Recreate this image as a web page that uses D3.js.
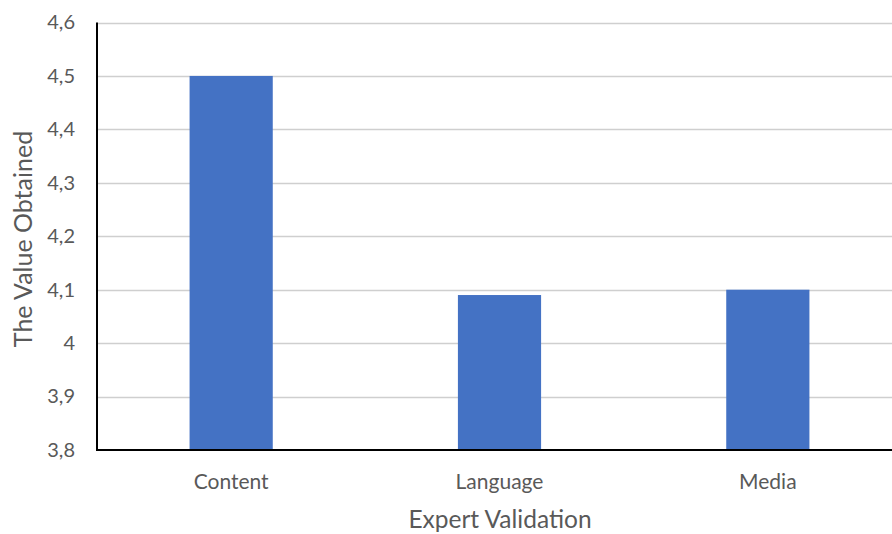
<!DOCTYPE html>
<html>
<head>
<meta charset="utf-8">
<script src="https://cdn.jsdelivr.net/npm/d3@7"></script>
<style>
  html, body { margin: 0; padding: 0; background: #ffffff; }
  svg { display: block; font-family: Lato, "Open Sans", sans-serif; }
</style>
</head>
<body>
<svg id="chart" width="892" height="534"></svg>
<script>
// Expert validation scores per aspect
const categories = ["Content", "Language", "Media"];
const values = [4.5, 4.09, 4.1];
const yTicks = [3.8, 3.9, 4.0, 4.1, 4.2, 4.3, 4.4, 4.5, 4.6];
const xTitle = "Expert Validation";
const yTitle = "The Value Obtained";

const svg = d3.select("#chart");
const plot = { left: 97, right: 902, top: 22.5, bottom: 450 };
const textColor = "#595959";

const x = d3.scaleBand()
  .domain(categories)
  .range([plot.left, plot.right])
  .paddingInner(0.69)
  .paddingOuter(0.345);

const y = d3.scaleLinear()
  .domain([3.8, 4.6])
  .range([plot.bottom, plot.top]);

const fmt = v => (v === 4 ? "4" : d3.format(".1f")(v).replace(".", ","));

// horizontal gridlines
svg.append("g")
  .selectAll("line")
  .data(yTicks.filter(t => t > 3.8))
  .join("line")
  .attr("x1", plot.left)
  .attr("x2", 892)
  .attr("y1", d => Math.round(y(d)) + 0.5)
  .attr("y2", d => Math.round(y(d)) + 0.5)
  .attr("stroke", "#cfcfcf")
  .attr("stroke-width", 1.3);

// bars
svg.append("g")
  .selectAll("rect")
  .data(categories.map((c, i) => ({ c, v: values[i] })))
  .join("rect")
  .attr("x", d => x(d.c))
  .attr("width", x.bandwidth())
  .attr("y", d => y(d.v))
  .attr("height", d => y(3.8) - y(d.v))
  .attr("fill", "#4472c4");

// y axis
const yAxis = svg.append("g")
  .attr("transform", `translate(${plot.left},0)`)
  .call(d3.axisLeft(y).tickValues(yTicks).tickFormat(fmt).tickSize(0).tickPadding(22));
yAxis.select(".domain").attr("stroke", "#000").attr("stroke-width", 2).attr("d", `M0,${plot.top}V${plot.bottom + 1}`);
yAxis.selectAll("text")
  .attr("fill", textColor)
  .style("font-size", "20px")
  .style("font-family", "Lato, sans-serif");

// x axis
const xAxis = svg.append("g")
  .attr("transform", `translate(0,${plot.bottom})`)
  .call(d3.axisBottom(x).tickSize(0).tickPadding(24));
xAxis.select(".domain").attr("stroke", "#000").attr("stroke-width", 2).attr("d", `M${plot.left - 1},0H892`);
xAxis.selectAll("text")
  .attr("fill", textColor)
  .style("font-size", "21px")
  .style("font-family", "Lato, sans-serif");

// axis titles
svg.append("text")
  .attr("x", 500)
  .attr("y", 528)
  .attr("text-anchor", "middle")
  .attr("fill", textColor)
  .style("font-size", "24.5px")
  .text(xTitle);

svg.append("text")
  .attr("transform", "translate(32,239) rotate(-90)")
  .attr("text-anchor", "middle")
  .attr("fill", textColor)
  .style("font-size", "25px")
  .text(yTitle);
</script>
</body>
</html>
